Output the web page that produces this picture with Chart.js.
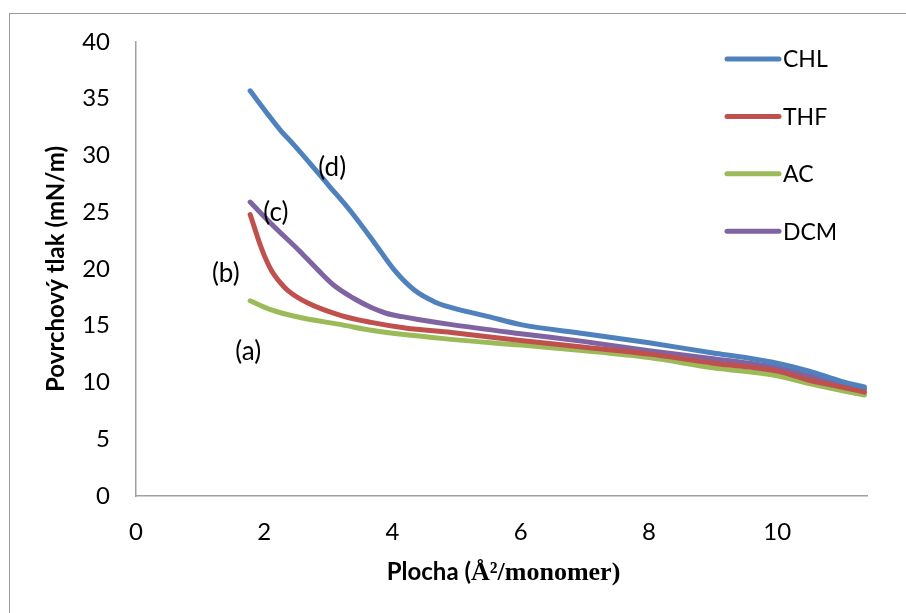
<!DOCTYPE html>
<html>
<head>
<meta charset="utf-8">
<script src="https://cdn.jsdelivr.net/npm/chart.js@4.4.1/dist/chart.umd.min.js"></script>
<style>
  body { margin: 0; background: #fff; overflow: hidden; }
  #wrap { position: relative; width: 906px; height: 613px; }
  #frame { position: absolute; left: 9px; top: 13px; width: 1000px; height: 1000px; border: 1px solid #9a9a9a; }
  canvas { position: absolute; left: 0; top: 0; }
</style>
</head>
<body>
<div id="wrap">
  <div id="frame"></div>
  <canvas id="myChart" width="906" height="613"></canvas>
</div>
<script>
// data
const chlX = [1.78, 2.06, 2.27, 2.42, 2.73, 3.0, 3.36, 3.72, 4.03, 4.35, 4.66, 4.92, 5.5, 6, 7, 8, 9, 9.5, 10, 10.5, 11, 11.36]
const chlY = [35.7, 33.6, 32.1, 31.2, 29.2, 27.4, 25.0, 22.3, 19.9, 18.1, 17.1, 16.6, 15.8, 15.1, 14.3, 13.5, 12.6, 12.2, 11.7, 11.0, 10.1, 9.6]

const thfX = [1.78, 1.85, 1.92, 2.0, 2.11, 2.25, 2.37, 2.68, 3.2, 3.67, 4.2, 4.92, 6, 7, 8, 9, 10, 10.5, 11, 11.36]
const thfY = [24.8, 23.6, 22.4, 21.2, 19.9, 18.8, 18.1, 17.0, 15.9, 15.3, 14.8, 14.4, 13.7, 13.1, 12.5, 11.7, 11.0, 10.2, 9.6, 9.15]

const acX = [1.78, 2.11, 2.58, 3.2, 3.67, 4.92, 6, 7, 8, 9, 10, 10.5, 11, 11.36]
const acY = [17.2, 16.4, 15.7, 15.1, 14.6, 13.8, 13.3, 12.8, 12.2, 11.3, 10.6, 9.9, 9.3, 8.9]

const dcmX = [1.78, 2.16, 2.53, 2.84, 3.1, 3.4, 3.67, 3.9, 4.15, 4.4, 4.92, 6, 7, 8, 9, 10, 10.5, 11, 11.36]
const dcmY = [25.9, 23.7, 21.7, 19.9, 18.5, 17.4, 16.6, 16.1, 15.8, 15.55, 15.1, 14.3, 13.6, 12.8, 12.1, 11.3, 10.6, 9.9, 9.4]

const seriesNames = ['CHL', 'THF', 'AC', 'DCM']
const seriesColors = ['#4F81BD', '#C0504D', '#9BBB59', '#8064A2']

const noteText = ['(a)', '(b)', '(c)', '(d)']
const noteX = [1.75, 1.40, 2.18, 3.06]
const noteY = [12.7, 19.6, 25.0, 28.9]

const xTitleMain = 'Plocha ('
const xTitleUnit = 'Å²/monomer)'
const yTitle = 'Povrchový tlak (mN/m)'

function pairs(xs, ys) {
  return xs.map((x, i) => ({ x: x, y: ys[i] }))
}

const allX = [chlX, thfX, acX, dcmX]
const allY = [chlY, thfY, acY, dcmY]

const FONT = 'Lato, "Open Sans", sans-serif'

// legend, labels (a)-(d) and the mixed-font x title
const extras = {
  id: 'extras',
  afterDraw(chart) {
    const ctx = chart.ctx
    const xs = chart.scales.x
    const ys = chart.scales.y
    ctx.save()
    // legend
    const legTop = 59
    const legStep = 57.4
    seriesNames.forEach((name, i) => {
      const y = legTop + i * legStep
      ctx.strokeStyle = seriesColors[i]
      ctx.lineWidth = 5
      ctx.lineCap = 'round'
      ctx.beginPath()
      ctx.moveTo(727, y)
      ctx.lineTo(779, y)
      ctx.stroke()
      ctx.fillStyle = '#000'
      ctx.font = '23px ' + FONT
      ctx.textAlign = 'left'
      ctx.textBaseline = 'middle'
      ctx.fillText(name, 783, y + 1)
    })
    // curve labels
    ctx.font = '26px ' + FONT
    ctx.textAlign = 'center'
    ctx.textBaseline = 'middle'
    ctx.fillStyle = '#000'
    noteText.forEach((t, i) => {
      ctx.fillText(t, xs.getPixelForValue(noteX[i]), ys.getPixelForValue(noteY[i]))
    })
    // x title
    const f1 = 'bold 24px ' + FONT
    const f2 = 'bold 26px "Liberation Serif", "DejaVu Serif", serif'
    ctx.font = f1
    const w1 = ctx.measureText(xTitleMain).width
    ctx.font = f2
    const w2 = ctx.measureText(xTitleUnit).width
    const cx = (chart.chartArea.left + chart.chartArea.right) / 2 + 2
    const start = cx - (w1 + w2) / 2
    const ty = 580
    ctx.textAlign = 'left'
    ctx.textBaseline = 'alphabetic'
    ctx.font = f1
    ctx.fillText(xTitleMain, start, ty)
    ctx.font = f2
    ctx.fillText(xTitleUnit, start + w1, ty)
    ctx.restore()
  },
}

const ctx = document.getElementById('myChart').getContext('2d')

const myChart = new Chart(ctx, {
  type: 'line',
  data: {
    datasets: seriesNames.map((name, i) => ({
      label: name,
      data: pairs(allX[i], allY[i]),
      borderColor: seriesColors[i],
      backgroundColor: seriesColors[i],
      borderWidth: 5,
      borderCapStyle: 'round',
      borderJoinStyle: 'round',
      pointRadius: 0,
      cubicInterpolationMode: 'monotone',
      fill: false,
    })),
  },
  options: {
    responsive: false,
    animation: false,
    events: [],
    layout: {
      padding: { top: 42, right: 39, left: 0, bottom: 0 },
    },
    plugins: {
      legend: { display: false },
      tooltip: { enabled: false },
    },
    scales: {
      x: {
        type: 'linear',
        min: 0,
        max: 11.4,
        afterFit: (scale) => { scale.height = 117 },
        grid: { display: false, drawTicks: false },
        border: { display: true, color: '#a0a0a0', width: 1.5 },
        ticks: {
          stepSize: 2,
          includeBounds: false,
          maxRotation: 0,
          padding: 22,
          color: '#000',
          font: { family: FONT, size: 24 },
        },
      },
      y: {
        min: 0,
        max: 40,
        afterFit: (scale) => { scale.width = 136 },
        grid: { display: false, drawTicks: false },
        border: { display: true, color: '#a0a0a0', width: 1.5 },
        ticks: {
          stepSize: 5,
          padding: 26,
          color: '#000',
          font: { family: FONT, size: 24 },
        },
        title: {
          display: true,
          text: yTitle,
          color: '#000',
          padding: { top: 42, bottom: 0 },
          font: { family: FONT, size: 24, weight: 'bold' },
        },
      },
    },
  },
  plugins: [extras],
})
</script>
</body>
</html>
